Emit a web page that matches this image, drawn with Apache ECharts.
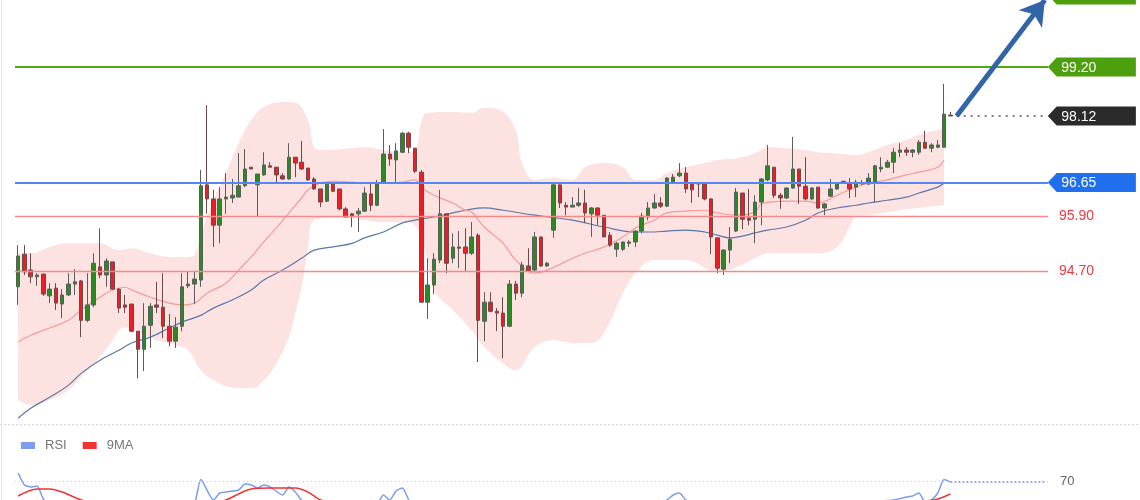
<!DOCTYPE html>
<html>
<head>
<meta charset="utf-8">
<script src="https://cdn.jsdelivr.net/npm/echarts@6/dist/echarts.min.js"></script>
<style>
html, body { margin: 0; padding: 0; background: #fff; }
#chart { width: 1140px; height: 500px; }
</style>
</head>
<body>
<div id="chart"></div>
<script>
// K线数据
const opens = [94.35,95.07,94.72,94.57,94.63,94.15,94.32,93.97,94.17,94.41,94.48,93.61,93.95,94.79,94.61,94.90,94.30,93.95,93.97,93.37,
  92.97,93.50,93.95,93.90,93.48,93.15,93.48,94.37,94.41,94.50,96.60,96.29,95.71,96.29,96.31,96.33,96.58,96.99,96.60,96.82,
  97.02,96.99,96.80,96.73,97.21,97.10,96.97,96.73,96.51,96.24,96.62,96.51,96.07,95.96,95.96,96.02,96.40,96.15,96.64,97.28,
  97.15,97.32,97.74,97.41,96.88,94.01,94.39,94.94,95.96,94.98,95.20,95.23,95.09,95.49,93.59,94.01,93.81,93.77,93.48,94.41,
  94.21,94.81,94.72,95.45,94.81,95.60,96.60,96.15,96.11,96.15,96.20,95.96,96.09,95.93,95.49,95.18,95.18,95.31,95.34,95.58,
  95.89,96.09,96.20,96.13,96.66,96.80,96.86,96.62,96.64,96.64,96.29,95.43,94.74,95.16,95.58,96.42,95.87,95.84,96.22,96.71,
  96.99,96.37,96.31,96.53,96.95,96.57,96.29,96.55,96.09,96.35,96.51,96.66,96.64,96.55,96.62,96.62,96.66,96.95,96.99,97.10,
  97.32,97.37,97.32,97.32,97.54,97.41,97.43,97.43,98.14]
const closes = [95.03,94.68,94.57,94.61,94.19,94.30,93.99,94.17,94.41,94.46,93.61,93.95,94.87,94.61,94.92,94.30,93.88,93.90,93.37,92.97,
  93.48,93.92,93.90,93.48,93.15,93.46,94.35,94.41,94.52,96.58,96.29,95.71,96.29,96.33,96.37,96.58,96.95,96.95,96.84,97.04,
  96.99,96.82,96.73,97.21,97.08,96.95,96.71,96.51,96.22,96.62,96.46,96.07,95.89,95.91,96.02,96.42,96.15,96.64,97.28,97.17,
  97.35,97.74,97.43,96.90,94.01,94.39,94.96,95.96,94.87,95.23,95.23,95.09,95.45,93.61,94.01,93.81,93.77,93.48,94.41,94.21,
  94.83,94.70,95.45,94.81,94.87,96.60,96.20,96.11,96.15,96.20,95.98,96.09,95.93,95.45,95.27,95.31,95.34,95.34,95.58,95.91,
  96.09,96.20,96.13,96.75,96.77,96.86,96.51,96.49,96.62,96.29,95.45,94.76,95.16,95.40,96.44,95.84,95.82,96.22,96.73,97.02,
  96.37,96.31,96.53,96.95,96.57,96.29,96.53,96.09,96.18,96.51,96.64,96.68,96.51,96.66,96.64,96.75,97.02,96.99,97.10,97.32,
  97.37,97.32,97.37,97.54,97.41,97.48,97.48,98.16,98.12]
const lows = [93.95,94.61,94.43,94.37,94.15,93.99,93.84,93.66,94.15,94.17,93.24,93.57,93.90,94.54,94.35,94.28,93.77,93.77,93.35,92.33,
  92.49,93.00,93.77,93.22,93.04,93.00,93.37,94.32,93.97,94.35,95.96,95.23,95.31,95.96,96.20,96.33,96.55,96.95,95.89,96.80,
  96.99,96.66,96.71,96.71,96.77,96.93,96.69,96.49,96.11,96.22,96.44,96.04,95.89,95.67,95.56,96.00,96.02,96.13,96.64,97.02,
  96.66,97.30,97.30,96.86,94.01,93.64,94.19,94.87,94.65,94.87,94.76,94.68,95.05,92.69,93.15,93.79,93.37,92.77,93.46,94.06,
  94.12,94.68,94.68,94.79,94.79,95.43,96.09,95.93,96.11,96.11,95.76,95.45,95.71,95.45,95.23,95.01,95.14,95.23,95.23,95.53,
  95.82,96.07,96.09,96.11,96.64,96.77,96.42,96.20,96.33,96.26,95.07,94.65,94.61,94.87,95.56,95.62,95.71,95.31,95.71,96.68,
  96.31,96.07,96.29,96.51,96.18,96.26,96.26,96.07,95.93,96.33,96.49,96.66,96.31,96.33,96.60,96.60,96.22,96.88,96.97,96.86,
  97.21,97.24,97.21,97.26,97.39,97.32,97.41,97.43,98.12]
const highs = [95.27,95.27,95.09,94.65,94.64,94.43,94.43,94.30,94.65,94.74,94.50,94.65,95.09,95.64,94.98,94.90,94.32,94.17,93.97,93.37,
  93.99,93.99,94.46,94.65,93.75,93.68,94.65,94.70,94.68,96.93,98.36,96.49,96.55,96.86,96.73,97.30,97.39,96.99,96.84,97.32,
  97.10,96.99,96.86,97.52,97.21,97.57,96.97,96.77,96.51,96.64,96.66,96.51,96.11,95.98,96.09,96.55,96.64,96.71,97.83,97.48,
  97.52,97.77,97.77,97.41,96.93,94.98,95.09,96.49,95.96,95.53,95.58,95.64,95.78,95.53,94.23,94.23,93.88,94.12,94.50,94.48,
  94.90,95.20,95.56,95.45,94.90,96.64,96.60,96.22,96.33,96.53,96.49,96.11,96.11,95.93,95.56,95.34,95.34,95.38,95.60,95.98,
  96.22,96.40,96.33,96.77,96.84,97.08,96.99,96.64,96.64,96.64,96.31,95.43,95.18,95.67,96.53,96.42,96.51,96.37,96.75,97.48,
  96.99,96.42,96.55,97.66,96.95,97.21,96.55,96.55,96.20,96.73,96.66,96.68,96.75,96.71,96.71,96.86,97.04,97.21,97.15,97.41,
  97.52,97.43,97.39,97.59,97.79,97.52,97.59,98.83,98.21]

// 布林带和均线 [K线序号, 价格]
const bbUpper = [[0,95.09],[2,95.09],[5,95.23],[8,95.31],[10,95.31],[13,95.31],[16,95.16],[18,95.20],[21,95.09],[24,95.01],
  [27,95.01],[28,95.05],[29,95.49],[31,96.26],[33,96.86],[35,97.52],[37,98.03],[39,98.32],[42,98.43],[44,98.41],[46,98.03],
  [47,97.43],[48,97.37],[53,97.41],[55,97.43],[58,97.37],[61,97.32],[63,97.37],[64,97.99],[65,98.19],[69,98.21],[72,98.19],
  [74,98.30],[77,98.21],[79,97.81],[80,97.08],[82,96.71],[85,96.75],[88,96.71],[90,96.99],[93,97.08],[96,96.99],[98,96.71],
  [101,96.71],[103,96.86],[106,96.99],[109,97.08],[111,97.15],[114,97.19],[117,97.30],[119,97.43],[122,97.41],[125,97.37],
  [127,97.32],[130,97.30],[133,97.26],[135,97.32],[138,97.48],[141,97.59],[143,97.70],[146,97.81],[147,97.85]]
const bbLower = [[0,91.85],[2,91.74],[5,91.85],[8,92.07],[10,92.36],[13,92.80],[15,93.17],[16,93.39],[17,93.46],[19,93.35],
  [22,93.17],[25,93.06],[27,92.95],[29,92.51],[31,92.29],[34,92.13],[37,92.11],[39,92.29],[41,92.66],[43,93.24],[44,93.77],
  [45,94.34],[46,95.16],[47,95.82],[50,95.87],[53,95.87],[55,95.82],[58,95.78],[61,95.78],[63,95.71],[65,94.94],[66,94.28],
  [69,93.84],[72,93.39],[74,93.02],[77,92.66],[79,92.51],[82,93.02],[85,93.17],[88,93.11],[91,93.11],[93,93.33],[96,94.21],
  [98,94.65],[101,94.94],[106,94.94],[111,94.67],[114,94.78],[117,94.98],[119,95.09],[127,95.09],[130,95.23],[132,95.67],
  [133,95.89],[135,95.93],[140,96.04],[147,96.15]]
const bbMiddle = [[0,93.13],[2,93.28],[5,93.44],[8,93.61],[10,93.84],[13,94.12],[15,94.28],[17,94.34],[18,94.28],[21,94.12],
  [24,93.99],[26,93.95],[28,93.99],[30,94.21],[33,94.43],[35,94.72],[37,95.01],[39,95.34],[41,95.65],[43,95.98],[45,96.31],
  [46,96.49],[48,96.64],[50,96.68],[53,96.66],[55,96.64],[58,96.64],[61,96.66],[63,96.71],[64,96.55],[66,96.37],[69,96.20],
  [71,96.04],[72,96.00],[74,95.67],[77,95.31],[79,94.94],[82,94.65],[85,94.78],[88,94.98],[90,95.09],[93,95.23],[96,95.45],
  [98,95.65],[101,95.82],[103,95.98],[106,96.02],[109,96.04],[111,95.98],[114,95.93],[117,96.00],[118,96.18],[122,96.24],
  [125,96.24],[127,96.20],[130,96.37],[133,96.55],[135,96.64],[138,96.71],[141,96.82],[143,96.88],[146,96.99],[147,97.15]]
const slowMa = [[0,91.45],[2,91.67],[5,91.91],[8,92.18],[10,92.44],[13,92.73],[16,92.95],[18,93.11],[21,93.24],[24,93.44],
  [26,93.57],[29,93.72],[31,93.88],[34,94.06],[37,94.28],[39,94.50],[42,94.72],[45,94.98],[47,95.16],[50,95.23],[53,95.31],
  [55,95.43],[58,95.56],[61,95.76],[63,95.82],[66,95.89],[69,95.98],[71,96.04],[74,96.09],[77,96.04],[82,95.93],[88,95.82],
  [93,95.67],[98,95.56],[101,95.56],[103,95.58],[106,95.60],[109,95.56],[111,95.49],[113,95.43],[115,95.47],[117,95.54],
  [119,95.60],[122,95.67],[125,95.82],[127,95.98],[130,96.09],[133,96.15],[135,96.20],[138,96.26],[141,96.33],[143,96.42],
  [146,96.55],[147,96.64]]

// RSI 和 9MA
const rsi = [[0,78],[1,66],[2,64],[3,65],[4,52],[5,46],[6,48],[8,50],[10,45],[12,50],[15,45],[18,38],[20,32],[22,40],[24,36],
  [26,40],[28,48],[29,71.5],[31,51],[32,58],[33,59],[35,61],[36,67],[37,66],[38,63],[39,66],[40,64],[42,56],[43,64],[44,59],
  [45,51],[47,45],[49,40],[52,35],[55,38],[57,47],[58,56],[59,51],[60,60],[61,63],[62,51],[64,25],[66,30],[70,35],[74,28],
  [78,32],[82,40],[85,48],[88,45],[92,40],[96,38],[100,45],[102,48],[103,51],[104,56],[105,58],[106,51],[108,46],[111,35],
  [113,32],[116,42],[119,48],[122,45],[125,44],[128,40],[131,46],[134,47],[137,50],[139,51],[141,54],[142,55],[143,58],
  [144,49],[145,51],[146,58],[147,71.5],[148,69]]
const rsiMa = [[0,55],[3,62],[5,62],[7,59],[10,51],[14,45],[20,40],[26,40],[30,45],[33,51],[37,62],[40,63],[44,63],[46,59],
  [48,51],[52,45],[60,45],[66,40],[75,32],[85,38],[95,42],[105,48],[112,42],[120,43],[130,45],[140,48],[144,50],[146,52],[148,57]]

// 关键价位
const targetLevel = 100.80
const resistance = 99.20
const lastPrice = 98.12
const pivot = 96.65
const supports = [95.90, 94.70]
const rsiLevel = 70

const priceMin = 91.3
const priceMax = 100.68
const slotCount = 164
const categories = []
for (let i = 0; i < slotCount; i++) categories.push(String(i))

const candleData = []
for (let i = 0; i < opens.length; i++) {
  candleData.push([opens[i], closes[i], lows[i], highs[i]])
}
const lastIdx = opens.length - 1
const edge = slotCount - 1

const font = 'Liberation Sans, Arial, sans-serif'
const tagShape = 'path://M0,10L9,0L90,0L90,20L9,20Z'

function tag(value, color) {
  return { coord: [edge, value], value: value, itemStyle: { color: color } }
}

const chart = echarts.init(document.getElementById('chart'))
chart.setOption({
  backgroundColor: '#fff',
  animation: false,
  textStyle: { fontFamily: font },
  legend: {
    left: 16, top: 434,
    itemWidth: 14, itemHeight: 7, itemGap: 16,
    textStyle: { color: '#777', fontSize: 13, fontFamily: font, padding: [0, 0, 0, 5] },
    data: [{ name: 'RSI', icon: 'rect' }, { name: '9MA', icon: 'rect' }]
  },
  grid: [
    { left: 15, right: 92, top: 0, height: 425 },
    { left: 15, right: 92, top: 451, height: 49 }
  ],
  xAxis: [
    { type: 'category', data: categories, gridIndex: 0, show: false },
    { type: 'category', data: categories, gridIndex: 1, show: false }
  ],
  yAxis: [
    { type: 'value', gridIndex: 0, min: priceMin, max: priceMax, show: false },
    { type: 'value', gridIndex: 1, min: 51, max: 100, show: false }
  ],
  graphic: [
    { type: 'line', z: 10, shape: { x1: 0, y1: 424.5, x2: 1140, y2: 424.5 }, style: { stroke: '#d6d6d6', lineDash: [2, 2], lineWidth: 1 } },
    { type: 'line', z: 10, shape: { x1: 1.5, y1: 0, x2: 1.5, y2: 500 }, style: { stroke: '#e6e6e6', lineWidth: 1 } }
  ],
  series: [
    {
      name: 'bbUpper', type: 'line', data: bbUpper, smooth: 0.4, symbol: 'none', z: 1, silent: true,
      lineStyle: { width: 0, opacity: 0 },
      areaStyle: { color: '#fde2e2', opacity: 1, origin: 'start' }
    },
    {
      name: 'bbLower', type: 'line', data: bbLower, smooth: 0.4, symbol: 'none', z: 1, silent: true,
      lineStyle: { width: 0, opacity: 0 },
      areaStyle: { color: '#ffffff', opacity: 1, origin: 'start' }
    },
    {
      name: 'ma', type: 'line', data: slowMa, smooth: 0.4, symbol: 'none', z: 2, silent: true,
      lineStyle: { color: '#5a78a8', width: 1.2 }
    },
    {
      name: 'mid', type: 'line', data: bbMiddle, smooth: 0.4, symbol: 'none', z: 2, silent: true,
      lineStyle: { color: '#f59a9a', width: 1.2 }
    },
    {
      name: 'levels', type: 'line', data: [], z: 3, clip: false, silent: true,
      markLine: {
        silent: true, symbol: 'none', animation: false,
        label: { show: false },
        data: [
          { yAxis: resistance, lineStyle: { color: '#55a616', width: 2, type: 'solid' } },
          { yAxis: pivot, lineStyle: { color: '#5587f2', width: 2, type: 'solid' } },
          {
            yAxis: supports[0], lineStyle: { color: '#f58a8a', width: 1.3, type: 'solid' },
            label: { show: true, position: 'end', distance: 11, color: '#f0393f', fontSize: 14, fontFamily: font, formatter: p => p.value.toFixed(2) }
          },
          {
            yAxis: supports[1], lineStyle: { color: '#f58a8a', width: 1.3, type: 'solid' },
            label: { show: true, position: 'end', distance: 11, color: '#f0393f', fontSize: 14, fontFamily: font, formatter: p => p.value.toFixed(2) }
          },
          [
            { coord: [lastIdx + 1, lastPrice], lineStyle: { color: '#555', width: 1.5, type: [2, 5] } },
            { coord: [edge, lastPrice] }
          ],
          // 上涨箭头, 终点在图顶边
          [
            { coord: [lastIdx + 1, lastPrice], symbol: 'none', lineStyle: { color: '#3264a8', width: 5, type: 'solid' } },
            { coord: [edge, priceMax], symbol: 'arrow', symbolSize: [22, 24] }
          ]
        ]
      },
      markPoint: {
        silent: true, animation: false,
        symbol: tagShape, symbolSize: [88, 19], symbolOffset: [47, 0], symbolKeepAspect: false,
        label: { show: true, color: '#fff', fontSize: 14, fontFamily: font, offset: [-13, 1], formatter: p => p.value.toFixed(2) },
        data: [
          // 目标位在图顶之外, 标签贴在顶边
          { coord: [edge, priceMax], value: targetLevel, symbolOffset: [47, -5], itemStyle: { color: '#4c9f0d' } },
          tag(resistance, '#4c9f0d'),
          tag(lastPrice, '#2b2b2b'),
          tag(pivot, '#1f6fee')
        ]
      }
    },
    {
      name: 'price', type: 'candlestick', data: candleData, z: 4, barWidth: 4, silent: true,
      itemStyle: {
        color: '#2a8a22', color0: '#ee1c25',
        borderColor: '#5c5c5c', borderColor0: '#6a4a4a', borderWidth: 1
      }
    },
    {
      name: 'RSI', type: 'line', xAxisIndex: 1, yAxisIndex: 1, data: rsi, smooth: 0.2, symbol: 'none', silent: true,
      color: '#7e9cf0', lineStyle: { color: '#7e9cf0', width: 1.5 },
      markLine: {
        silent: true, symbol: 'none', animation: false,
        data: [
          {
            yAxis: rsiLevel, lineStyle: { color: '#c5cce0', width: 1, type: [1, 3] },
            label: { show: true, position: 'end', distance: 12, color: '#666', fontSize: 13, fontFamily: font, formatter: '70' }
          },
          [
            { coord: [lastIdx, 69], lineStyle: { color: '#7e9cf0', width: 1.5, type: [2, 2] }, label: { show: false } },
            { coord: [edge, 69] }
          ]
        ]
      }
    },
    {
      name: '9MA', type: 'line', xAxisIndex: 1, yAxisIndex: 1, data: rsiMa, smooth: 0.3, symbol: 'none', silent: true,
      color: '#f03434', lineStyle: { color: '#f03434', width: 1.5 }
    }
  ]
})
</script>
</body>
</html>
